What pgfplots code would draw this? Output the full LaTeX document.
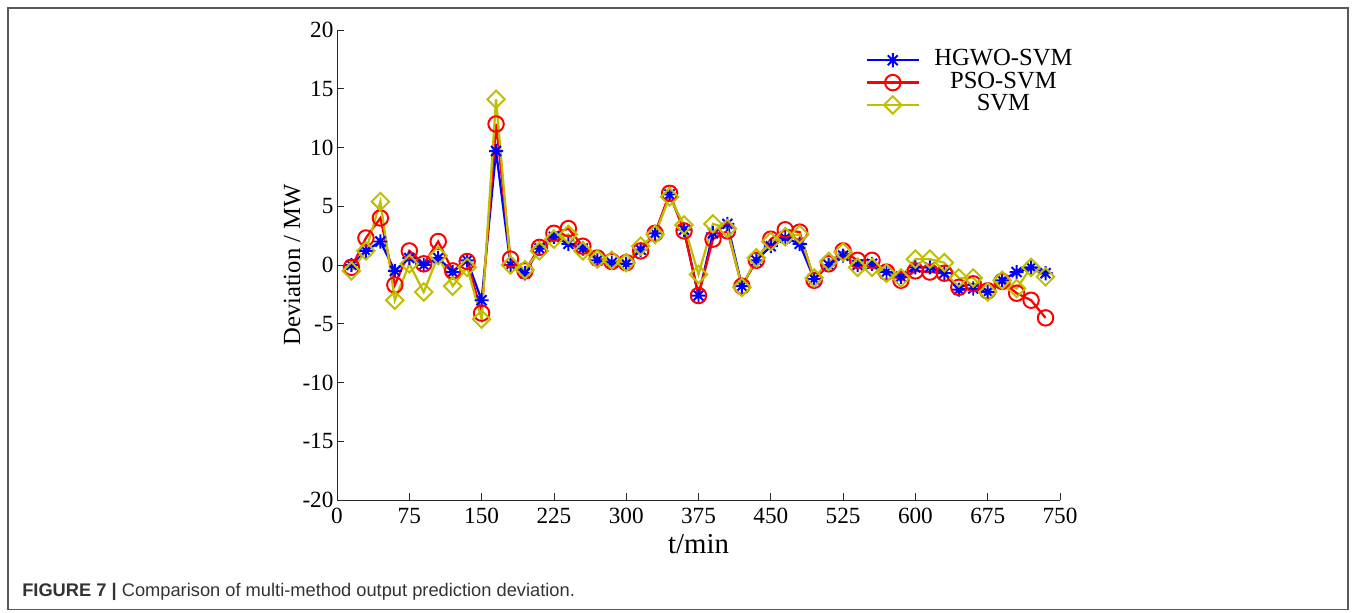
\documentclass[border=0pt]{standalone}
\usepackage{pgfplots}
\pgfplotsset{compat=1.18}
\usepackage{fontspec}
\setmainfont{Liberation Serif}
\newfontfamily\capfont{Liberation Sans}
\definecolor{myyel}{RGB}{191,191,0}
\pgfdeclareplotmark{mstar}{%
 \pgfpathmoveto{\pgfqpoint{-\pgfplotmarksize}{0pt}}\pgfpathlineto{\pgfqpoint{\pgfplotmarksize}{0pt}}%
 \pgfpathmoveto{\pgfqpoint{0pt}{-\pgfplotmarksize}}\pgfpathlineto{\pgfqpoint{0pt}{\pgfplotmarksize}}%
 \pgfpathmoveto{\pgfqpoint{-.7071\pgfplotmarksize}{-.7071\pgfplotmarksize}}\pgfpathlineto{\pgfqpoint{.7071\pgfplotmarksize}{.7071\pgfplotmarksize}}%
 \pgfpathmoveto{\pgfqpoint{-.7071\pgfplotmarksize}{.7071\pgfplotmarksize}}\pgfpathlineto{\pgfqpoint{.7071\pgfplotmarksize}{-.7071\pgfplotmarksize}}%
 \pgfusepathqstroke}
\pgfdeclareplotmark{mdiam}{%
 \pgfpathmoveto{\pgfqpoint{0pt}{\pgfplotmarksize}}\pgfpathlineto{\pgfqpoint{\pgfplotmarksize}{0pt}}%
 \pgfpathlineto{\pgfqpoint{0pt}{-\pgfplotmarksize}}\pgfpathlineto{\pgfqpoint{-\pgfplotmarksize}{0pt}}%
 \pgfpathclose\pgfusepathqstroke}
\begin{document}
\begin{tikzpicture}
\path[use as bounding box] (0,0) rectangle (339mm,153mm);
\draw[black!65, line width=0.3mm] (2mm,0.6mm) rectangle (337mm,151mm);
\begin{axis}[
  at={(84.25mm,28mm)}, anchor=south west,
  scale only axis, width=180.75mm, height=117.5mm,
  xmin=0, xmax=750, ymin=-20, ymax=20,
  xtick={0,75,...,750}, ytick={-20,-15,...,20},
  axis x line*=bottom, axis y line*=left,
  axis line style={line width=0.5pt, black!85},
  tick align=inside, major tick length=1.8mm,
  tick style={black!85, line width=0.5pt},
  /pgf/number format/assume math mode=true,
  ticklabel style={font=\fontsize{16.5}{16.5}\selectfont},
  yticklabel style={xshift=1pt},
  xticklabel style={yshift=-2.5pt},
  xlabel={t/min}, ylabel={Deviation / MW},
  xlabel style={font=\fontsize{20.5}{20.5}\selectfont, at={(axis description cs:0.5,-0.094)}, anchor=center},
  ylabel style={font=\fontsize{17.5}{17.5}\selectfont, at={(axis description cs:-0.062,0.5)}, anchor=center},
  legend style={draw=none, fill=none, at={(0.725,0.966)}, anchor=north west,
    font=\fontsize{17.5}{17.5}\selectfont, column sep=10pt,
    nodes={inner sep=0.3pt, text height=11.5pt, text depth=3.8pt}},
  legend cell align=center,
  legend image code/.code={\draw[mark repeat=2,mark phase=2,#1] plot coordinates {(0cm,0cm) (0.65cm,0cm) (1.3cm,0cm)};},
  every axis plot/.append style={line width=1.6pt, mark options={solid, line width=1.4pt}},
]
\addplot[color=blue, mark=mstar, mark size=5pt] coordinates {
(15,0) (30,1.2) (45,2.0) (60,-0.5) (75,0.6) (90,0) (105,0.6) (120,-0.6) (135,0.4) (150,-3.0)
(165,9.7) (180,0) (195,-0.7) (210,1.4) (225,2.4) (240,1.8) (255,1.4) (270,0.4) (285,0.2) (300,0.1)
(315,1.3) (330,2.7) (345,6.0) (360,3.0) (375,-2.6) (390,2.7) (405,3.5) (420,-1.8) (435,0.4) (450,1.6)
(465,2.3) (480,1.8) (495,-1.2) (510,0) (525,0.8) (540,0) (555,0.1) (570,-0.6) (585,-1.0) (600,-0.2)
(615,-0.2) (630,-0.7) (645,-2.1) (660,-2.0) (675,-2.3) (690,-1.3) (705,-0.6) (720,-0.2) (735,-0.7)};
\addlegendentry{HGWO-SVM}
\addplot[color=red, mark=o, mark size=5.5pt] coordinates {
(15,-0.2) (30,2.3) (45,4.0) (60,-1.7) (75,1.2) (90,0.1) (105,2.0) (120,-0.5) (135,0.3) (150,-4.1)
(165,12.0) (180,0.5) (195,-0.5) (210,1.5) (225,2.7) (240,3.1) (255,1.6) (270,0.6) (285,0.3) (300,0.2)
(315,1.2) (330,2.7) (345,6.1) (360,2.9) (375,-2.6) (390,2.2) (405,2.9) (420,-1.8) (435,0.4) (450,2.2)
(465,3.0) (480,2.8) (495,-1.3) (510,0.1) (525,1.2) (540,0.4) (555,0.4) (570,-0.6) (585,-1.3) (600,-0.5)
(615,-0.6) (630,-0.7) (645,-1.9) (660,-1.6) (675,-2.2) (690,-1.4) (705,-2.4) (720,-3.0) (735,-4.5)};
\addlegendentry{PSO-SVM}
\addplot[color=myyel, mark=mdiam, mark size=6.2pt] coordinates {
(15,-0.5) (30,1.2) (45,5.4) (60,-3.0) (75,0.1) (90,-2.3) (105,0.8) (120,-1.8) (135,-0.2) (150,-4.6)
(165,14.1) (180,0) (195,-0.4) (210,1.2) (225,2.2) (240,2.6) (255,1.2) (270,0.5) (285,0.4) (300,0.2)
(315,1.6) (330,2.6) (345,5.8) (360,3.4) (375,-0.8) (390,3.5) (405,3.1) (420,-1.9) (435,0.6) (450,2.0)
(465,2.4) (480,2.6) (495,-1.1) (510,0.3) (525,1.1) (540,-0.2) (555,-0.2) (570,-0.7) (585,-1.1) (600,0.5)
(615,0.5) (630,0.2) (645,-1.1) (660,-1.1) (675,-2.3) (690,-1.3) (705,-2.0) (720,-0.2) (735,-1.0)};
\addlegendentry{SVM}
\end{axis}
\node[anchor=west, inner sep=0pt, text=black!80] at (5.5mm,5mm) {\capfont\fontsize{13}{15}\selectfont\textbf{FIGURE 7 |} Comparison of multi-method output prediction deviation.};
\end{tikzpicture}
\end{document}
